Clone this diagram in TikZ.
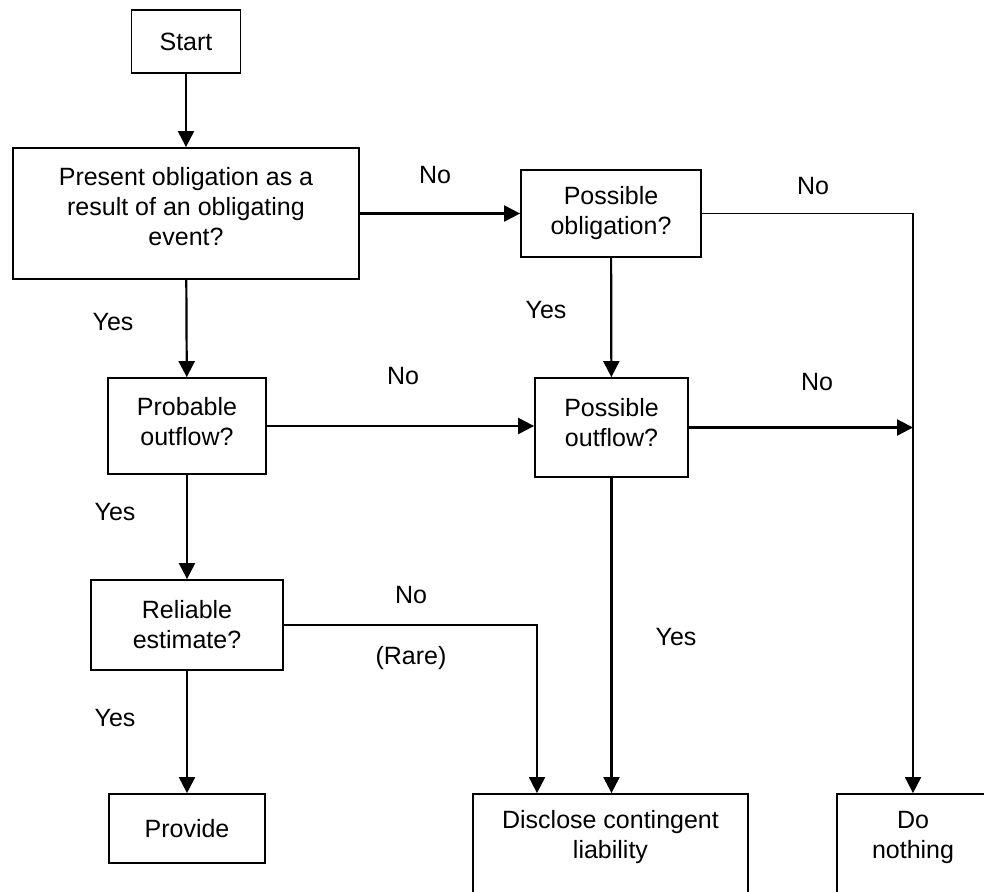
\documentclass[tikz,border=0pt]{standalone}
\usepackage{fontspec}
\setmainfont{Liberation Sans}
\usetikzlibrary{arrows.meta}
\tikzset{
  box/.style={draw, line width=1.8pt, inner sep=0pt, align=center,
    font=\fontsize{25}{30}\selectfont},
  txt/.style={inner sep=0pt, align=center, font=\fontsize{25}{30}\selectfont},
  lbl/.style={inner sep=0pt, font=\fontsize{25}{30}\selectfont},
  arr/.style={line width=2.2pt, -{Triangle[length=16pt,width=16pt]}},
  thinarr/.style={line width=1.9pt, -{Triangle[length=16pt,width=16pt]}},
}
\begin{document}
\begin{tikzpicture}[x=1pt,y=-1pt]
\useasboundingbox (0,0) rectangle (984,891);
\clip (0,0) rectangle (984,891);
% boxes
\node[box, minimum width=109pt, minimum height=63pt] (start) at (186,41.5) {Start};
\node[box, minimum width=346pt, minimum height=131pt] (present) at (186,213.5) {};
\node[txt] (presenttxt) at (186,207) {Present obligation as a\\result of an obligating\\event?};
\node[box, minimum width=180pt, minimum height=87pt] (posobl) at (611,213.5)
  {Possible\\obligation?};
\node[box, minimum width=158pt, minimum height=96pt] (probable) at (187,426) {};
\node[txt] (probabletxt) at (187,422) {Probable\\outflow?};
\node[box, minimum width=153pt, minimum height=99pt] (posout) at (611.5,427.5) {};
\node[txt] (posouttxt) at (611.5,423) {Possible\\outflow?};
\node[box, minimum width=192pt, minimum height=90pt] (reliable) at (187,625)
  {Reliable\\estimate?};
\node[box, minimum width=156pt, minimum height=69pt] (provide) at (187,828.5)
  {Provide};
\node[box, minimum width=275pt, minimum height=140pt] (disclose) at (610.5,864) {};
\node[txt] (disclosetxt) at (610.5,837.5) {Disclose contingent\\liability};
\node[box, minimum width=152pt, minimum height=140pt] (donothing) at (913,864) {};
\node[txt] (donothingtxt) at (913,837.5) {Do\\nothing};
% connectors
\draw[arr] (start) -- (present);
\draw[arr] (present.east) -- (posobl.west);
\draw[thinarr] (posobl.east) -| (donothing.north);
\draw[arr] (posobl) -- (posout);
\draw[arr] (present) -- (probable);
\draw[arr] (probable.east) -- (probable.east -| posout.west);
\coordinate (joinR) at (posout.east -| donothing.north);
\draw[arr] (posout.east) -- (joinR);
\draw[arr] (probable) -- (reliable);
\draw[thinarr] (reliable.east) -| ([xshift=-73.5pt]disclose.north);
\draw[arr] (posout.south) -- (posout.south |- disclose.north);
\draw[arr] (reliable) -- (provide);
% labels
\node[lbl] (l1) at (435,175) {No};
\node[lbl] (l2) at (813,186) {No};
\node[lbl] (l3) at (546,310) {Yes};
\node[lbl] (l4) at (113,322) {Yes};
\node[lbl] (l5) at (403,376) {No};
\node[lbl] (l6) at (817,382) {No};
\node[lbl] (l7) at (115,512) {Yes};
\node[lbl] (l8) at (411,595) {No};
\node[lbl] (l9) at (411,658) {(Rare)};
\node[lbl] (l10) at (676,637) {Yes};
\node[lbl] (l11) at (115,718) {Yes};
\end{tikzpicture}
\end{document}
